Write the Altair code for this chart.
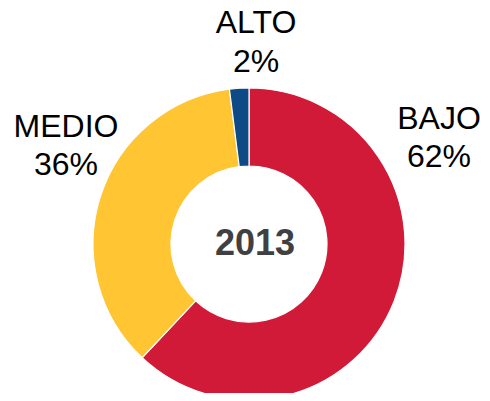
import altair as alt
import pandas as pd

categories = ["BAJO", "MEDIO", "ALTO"]
values = [62, 36, 2]
colors = ["#D01A37", "#FFC533", "#0E4A85"]
center_label = "2013"

df = pd.DataFrame({"cat": categories, "val": values, "ord": [0, 1, 2]})

W, H = 474, 385
cx, cy = 241, 236

donut = alt.Chart(df).mark_arc(
    outerRadius=156, innerRadius=78, stroke="white", strokeWidth=1.2
).encode(
    theta=alt.Theta("val:Q", stack=True),
    color=alt.Color("cat:N", scale=alt.Scale(domain=categories, range=colors), legend=None),
    order=alt.Order("ord:Q"),
    x=alt.value(cx),
    y=alt.value(cy),
)

font = "Liberation Sans"

def label(i, x, y, lh):
    d = pd.DataFrame({"t": [f"{categories[i]}\n{values[i]}%"]})
    return alt.Chart(d).mark_text(
        font=font, fontSize=32, color="black", lineBreak="\n",
        lineHeight=lh, align="center", baseline="alphabetic"
    ).encode(text="t:N", x=alt.value(x), y=alt.value(y))

center = alt.Chart(pd.DataFrame({"t": [center_label]})).mark_text(
    font=font, fontSize=36, fontWeight="bold", color="#404040",
    align="center", baseline="alphabetic"
).encode(text="t:N", x=alt.value(247), y=alt.value(247))

chart = alt.layer(
    donut,
    label(0, 431, 121, 38),
    label(1, 58, 129, 38),
    label(2, 248, 25, 39),
    center,
).properties(
    width=W, height=H, padding=0, autosize=alt.AutoSizeParams(type="none")
).configure_view(stroke=None)

chart.save("out.html", embed_options={"renderer": "svg", "actions": False})
